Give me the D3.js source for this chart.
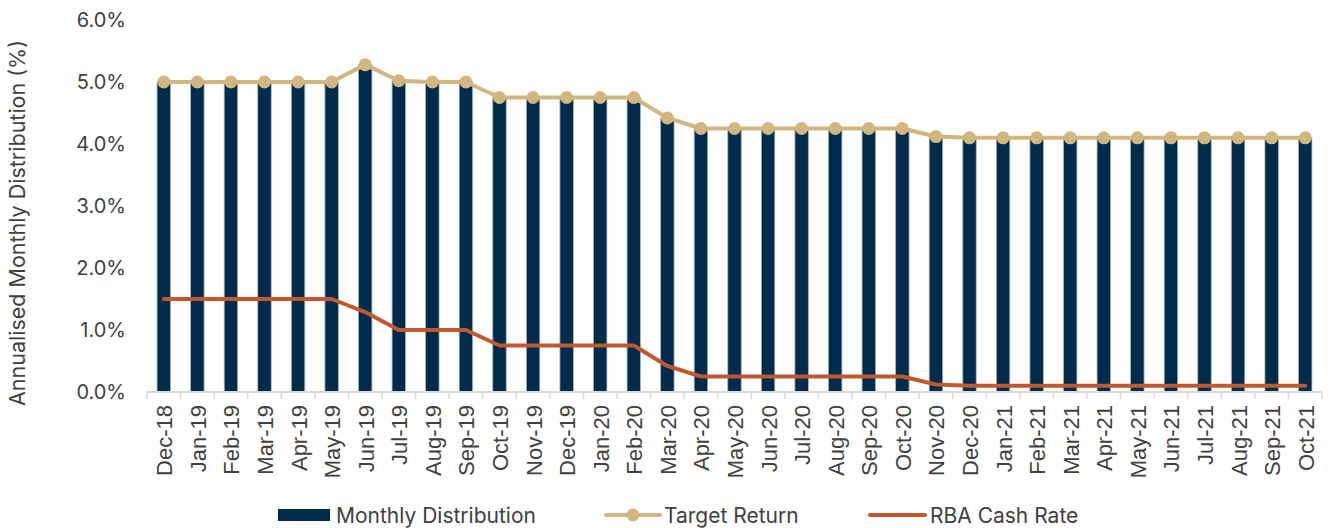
<!DOCTYPE html>
<html>
<head>
<meta charset="utf-8">
<script src="https://cdn.jsdelivr.net/npm/d3@7"></script>
<style>
  html, body { margin: 0; padding: 0; background: #fff; }
  svg { display: block; }
</style>
</head>
<body>
<svg id="chart" width="1333" height="528"></svg>
<script>
// Month labels along the x axis
const months = [
  "Dec-18","Jan-19","Feb-19","Mar-19","Apr-19","May-19","Jun-19","Jul-19","Aug-19","Sep-19",
  "Oct-19","Nov-19","Dec-19","Jan-20","Feb-20","Mar-20","Apr-20","May-20","Jun-20","Jul-20",
  "Aug-20","Sep-20","Oct-20","Nov-20","Dec-20","Jan-21","Feb-21","Mar-21","Apr-21","May-21",
  "Jun-21","Jul-21","Aug-21","Sep-21","Oct-21"
];

// Annualised monthly distribution (%)
const monthlyDistribution = [
  5.00, 5.00, 5.00, 5.00, 5.00, 5.00, 5.28, 5.02, 5.00, 5.00,
  4.75, 4.75, 4.75, 4.75, 4.75, 4.42, 4.25, 4.25, 4.25, 4.25,
  4.25, 4.25, 4.25, 4.12, 4.10, 4.10, 4.10, 4.10, 4.10, 4.10,
  4.10, 4.10, 4.10, 4.10, 4.10
];

// Target return (%)
const targetReturn = [
  5.00, 5.00, 5.00, 5.00, 5.00, 5.00, 5.28, 5.02, 5.00, 5.00,
  4.75, 4.75, 4.75, 4.75, 4.75, 4.42, 4.25, 4.25, 4.25, 4.25,
  4.25, 4.25, 4.25, 4.12, 4.10, 4.10, 4.10, 4.10, 4.10, 4.10,
  4.10, 4.10, 4.10, 4.10, 4.10
];

// RBA cash rate (%)
const rbaCashRate = [
  1.50, 1.50, 1.50, 1.50, 1.50, 1.50, 1.29, 1.00, 1.00, 1.00,
  0.75, 0.75, 0.75, 0.75, 0.75, 0.42, 0.25, 0.25, 0.25, 0.25,
  0.25, 0.25, 0.25, 0.12, 0.10, 0.10, 0.10, 0.10, 0.10, 0.10,
  0.10, 0.10, 0.10, 0.10, 0.10
];

const yTicks = [0, 1, 2, 3, 4, 5, 6];

const colors = {
  bar: "#012b4a",
  barEdge: "#9fb2c6",
  target: "#d2b680",
  rba: "#c0592f",
  axis: "#d9d9d9",
  text: "#404040"
};

const svg = d3.select("#chart");
const plot = { left: 147, right: 1322, top: 20, bottom: 392 };

const x = d3.scaleBand()
  .domain(months)
  .range([plot.left, plot.right])
  .paddingInner(0.6)
  .paddingOuter(0.3);

const y = d3.scaleLinear()
  .domain([0, 6])
  .range([plot.bottom, plot.top]);

const cx = m => x(m) + x.bandwidth() / 2;

// Bars
svg.append("g")
  .selectAll("rect")
  .data(months)
  .join("rect")
  .attr("x", m => x(m))
  .attr("y", (m, i) => y(monthlyDistribution[i]))
  .attr("width", x.bandwidth())
  .attr("height", (m, i) => y(0) - y(monthlyDistribution[i]))
  .attr("fill", colors.bar)
  .attr("stroke", colors.barEdge)
  .attr("stroke-width", 0.8);

// X axis line and category-boundary ticks
const step = x.step();
const edges = d3.range(months.length + 1).map(i => plot.left + i * step);
const axisG = svg.append("g");
axisG.append("line")
  .attr("x1", plot.left).attr("x2", plot.right)
  .attr("y1", plot.bottom).attr("y2", plot.bottom)
  .attr("stroke", colors.axis).attr("stroke-width", 2);
axisG.selectAll("line.tick")
  .data(edges)
  .join("line")
  .attr("class", "tick")
  .attr("x1", d => d).attr("x2", d => d)
  .attr("y1", plot.bottom).attr("y2", plot.bottom + 7)
  .attr("stroke", colors.axis).attr("stroke-width", 1.5);

// X tick labels (rotated)
svg.append("g")
  .selectAll("text")
  .data(months)
  .join("text")
  .attr("transform", m => `translate(${cx(m) + 8.5},${plot.bottom + 13}) rotate(-90)`)
  .attr("text-anchor", "end")
  .attr("font-family", "'Liberation Sans', Arial, sans-serif")
  .attr("font-size", 22)
  .attr("fill", colors.text)
  .text(m => m);

// Y tick labels
svg.append("g")
  .selectAll("text")
  .data(yTicks)
  .join("text")
  .attr("x", 126)
  .attr("y", d => y(d))
  .attr("dy", "0.36em")
  .attr("text-anchor", "end")
  .attr("font-family", "Inter, sans-serif")
  .attr("font-size", 20)
  .attr("fill", colors.text)
  .text(d => d3.format(".1f")(d) + "%");

// Y axis title
svg.append("text")
  .attr("transform", `translate(25,223) rotate(-90)`)
  .attr("text-anchor", "middle")
  .attr("font-family", "Inter, sans-serif")
  .attr("font-size", 21.5)
  .attr("fill", colors.text)
  .text("Annualised Monthly Distribution (%)");

// RBA cash rate line
const line = d3.line().x((d, i) => cx(months[i])).y(d => y(d));
svg.append("path")
  .datum(rbaCashRate)
  .attr("d", line)
  .attr("fill", "none")
  .attr("stroke", colors.rba)
  .attr("stroke-width", 4)
  .attr("stroke-linejoin", "round")
  .attr("stroke-linecap", "round");

// Target return line with markers
svg.append("path")
  .datum(targetReturn)
  .attr("d", line)
  .attr("fill", "none")
  .attr("stroke", colors.target)
  .attr("stroke-width", 4)
  .attr("stroke-linejoin", "round");
svg.append("g")
  .selectAll("circle")
  .data(targetReturn)
  .join("circle")
  .attr("cx", (d, i) => cx(months[i]))
  .attr("cy", d => y(d))
  .attr("r", 6.5)
  .attr("fill", colors.target);

// Legend
const legendY = 515;
const lg = svg.append("g")
  .attr("font-family", "Inter, sans-serif")
  .attr("font-size", 21)
  .attr("fill", colors.text);

lg.append("rect")
  .attr("x", 278).attr("y", legendY - 6)
  .attr("width", 52).attr("height", 12)
  .attr("fill", colors.bar);
lg.append("text").attr("x", 336).attr("y", legendY).attr("dy", "0.36em").text("Monthly Distribution");

lg.append("line")
  .attr("x1", 606).attr("x2", 660).attr("y1", legendY).attr("y2", legendY)
  .attr("stroke", colors.target).attr("stroke-width", 4).attr("stroke-linecap", "round");
lg.append("circle").attr("cx", 633).attr("cy", legendY).attr("r", 6.5).attr("fill", colors.target);
lg.append("text").attr("x", 664).attr("y", legendY).attr("dy", "0.36em").text("Target Return");

lg.append("line")
  .attr("x1", 870).attr("x2", 925).attr("y1", legendY).attr("y2", legendY)
  .attr("stroke", colors.rba).attr("stroke-width", 4).attr("stroke-linecap", "round");
lg.append("text").attr("x", 930).attr("y", legendY).attr("dy", "0.36em").text("RBA Cash Rate");
</script>
</body>
</html>
